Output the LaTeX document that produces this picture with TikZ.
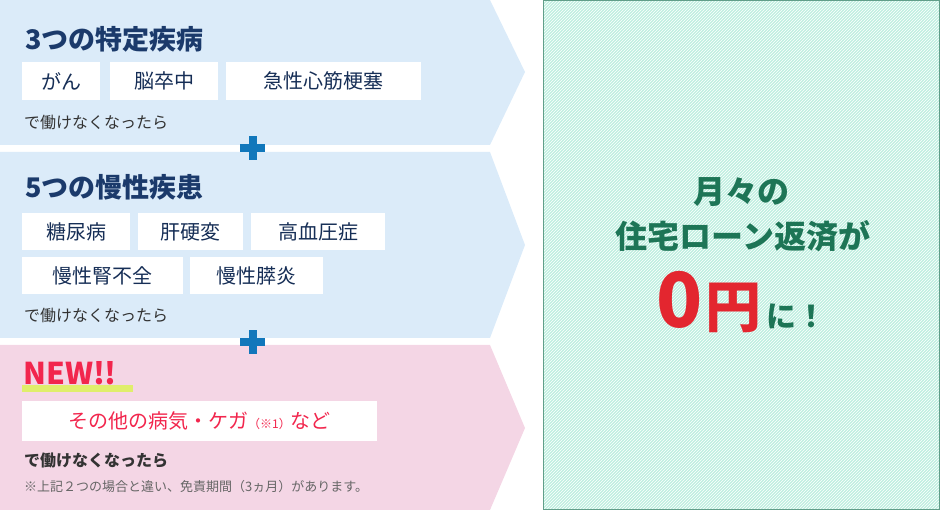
\documentclass[tikz,border=0pt]{standalone}
\usepackage{fontspec}
\setmainfont{Noto Sans CJK JP}
\usetikzlibrary{patterns, positioning}
\definecolor{paleblue}{HTML}{DBEBF9}
\definecolor{palepink}{HTML}{F4D6E5}
\definecolor{navytext}{HTML}{1B3A6B}
\definecolor{plusblue}{HTML}{1177BB}
\definecolor{redtext}{HTML}{F2264D}
\definecolor{mint}{HTML}{BFEFE0}
\definecolor{greentext}{HTML}{1D7556}
\definecolor{zerored}{HTML}{E3262F}
\definecolor{notegray}{HTML}{666666}
\begin{document}
\begin{tikzpicture}[x=1pt, y=-1pt]
    \tikzstyle{title}=[anchor=west, inner sep=0pt, font=\fontsize{27}{29}\selectfont\bfseries, text=navytext]
    \tikzstyle{ill}=[fill=white, inner sep=0pt, font=\fontsize{20}{22}\selectfont, text=navytext!80!black]
    \tikzstyle{cond}=[anchor=west, inner sep=0pt, font=\fontsize{16}{18}\selectfont, text=black!80]
    \tikzstyle{plus}=[fill=plusblue, draw=none]
    \tikzstyle{result}=[inner sep=0pt, font=\fontsize{32}{34}\selectfont\bfseries, text=greentext]
    \useasboundingbox (0,0) rectangle (940,510);

    % Panels
    \fill[paleblue] (0,0) -- (490,0) -- (525,72) -- (490,145) -- (0,145) -- cycle;
    \fill[paleblue] (0,152) -- (490,152) -- (525,245) -- (490,338) -- (0,338) -- cycle;
    \fill[palepink] (0,345) -- (490,345) -- (525,428) -- (490,510) -- (0,510) -- cycle;

    % Plus signs
    \foreach \y in {148,342} {
        \fill[plus] (240,\y-4) rectangle (265,\y+4);
        \fill[plus] (248.5,\y-12) rectangle (256.5,\y+12);
    }

    % First group
    \node[title] (t1) at (25,39) {3つの特定疾病};
    \node[ill, minimum width=78, minimum height=38] (cancer) at (61,81) {がん};
    \node[ill, minimum width=108, minimum height=38] (stroke) at (164,81) {脳卒中};
    \node[ill, minimum width=195, minimum height=38] (heart) at (323.5,81) {急性心筋梗塞};
    \node[cond] (c1) at (24,122) {で働けなくなったら};

    % Second group
    \node[title] (t2) at (25,187) {5つの慢性疾患};
    \node[ill, minimum width=108, minimum height=37] (diab) at (76,231.5) {糖尿病};
    \node[ill, minimum width=105, minimum height=37] (liver) at (190.5,231.5) {肝硬変};
    \node[ill, minimum width=134, minimum height=37] (press) at (318,231.5) {高血圧症};
    \node[ill, minimum width=161, minimum height=37] (kidney) at (102.5,275.5) {慢性腎不全};
    \node[ill, minimum width=133, minimum height=37] (pancr) at (256.5,275.5) {慢性膵炎};
    \node[cond] (c2) at (24,315) {で働けなくなったら};

    % Third group
    \fill[yellow!80!green!60] (22,385) rectangle (133,392);
    \node[title, text=redtext, font=\fontsize{30}{32}\selectfont\bfseries] (new) at (23,373) {NEW!!};
    \node[ill, minimum width=355, minimum height=40, text=redtext] (other) at (199.5,421)
        {その他の病気・ケガ{\fontsize{12}{13}\selectfont（※1）}など};
    \node[cond, font=\fontsize{16}{18}\selectfont\bfseries] (c3) at (24,460) {で働けなくなったら};
    \node[cond, font=\fontsize{13}{15}\selectfont, text=notegray] (note) at (24,487)
        {※上記２つの場合と違い、免責期間（3ヵ月）があります。};

    % Result box
    \fill[mint] (543.5,0.5) rectangle (939.5,509.5);
    \fill[pattern=north east lines, pattern color=white] (543.5,0.5) rectangle (939.5,509.5);
    \draw[greentext!70, line width=1pt] (543.5,0.5) rectangle (939.5,509.5);
    \node[result] (r1) at (741,192) {月々の};
    \node[result] (r2) at (743,236) {住宅ローン返済が};
    \node[anchor=base west, inner sep=0pt, text=zerored, font=\fontsize{76}{78}\selectfont\bfseries] (zero) at (656,328) {0};
    \node[anchor=base west, inner sep=0pt, text=zerored, font=\fontsize{56}{58}\selectfont\bfseries] (yen) at ([xshift=3pt]zero.base east) {円};
    \node[anchor=base west, inner sep=0pt, text=greentext, font=\fontsize{30}{32}\selectfont\bfseries] (ni) at ([xshift=4pt]yen.base east) {に！};
\end{tikzpicture}
\end{document}
